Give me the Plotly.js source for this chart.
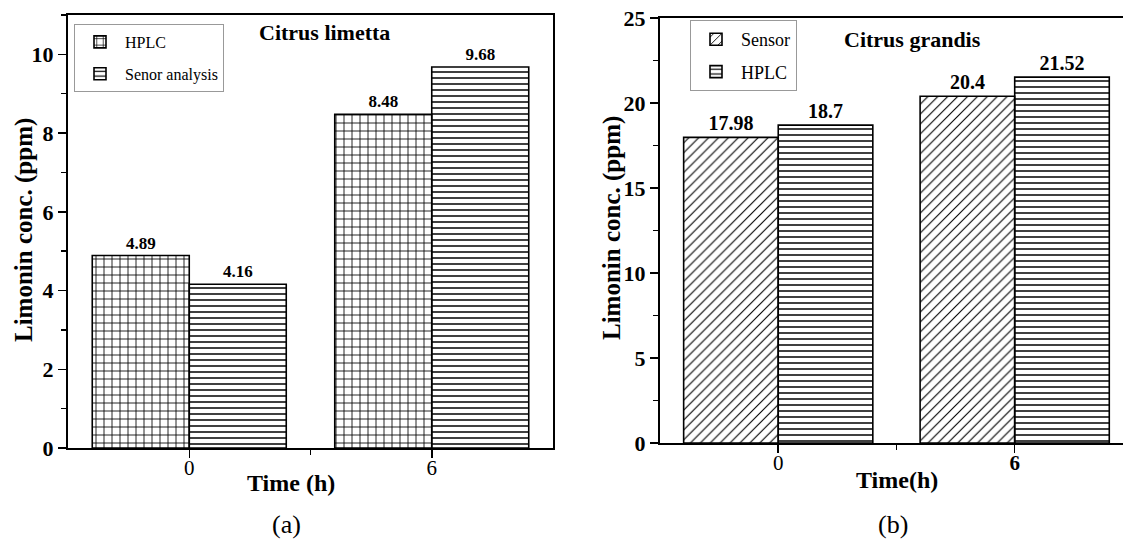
<!DOCTYPE html>
<html>
<head>
<meta charset="utf-8">
<script src="https://cdn.plot.ly/plotly-3.0.1.min.js"></script>
<style>html,body{margin:0;padding:0;background:#fff;}#chart{width:1123px;height:542px;}</style>
</head>
<body>
<div id="chart"></div>
<script>
// ---- data ----
const categories = ['0', '6'];            // Time (h)
const limettaHPLC = [4.89, 8.48];
const limettaSensor = [4.16, 9.68];
const grandisSensor = [17.98, 20.4];
const grandisHPLC = [18.7, 21.52];
const seriesNamesA = ['HPLC', 'Senor analysis'];
const seriesNamesB = ['Sensor', 'HPLC'];
const panelTitles = ['Citrus limetta', 'Citrus grandis'];
const xTitles = ['Time (h)', 'Time(h)'];
const yTitle = 'Limonin conc. (ppm)';
const panelLabels = ['(a)', '(b)'];

// ---- rendering ----
const FONT = 'Liberation Serif, Times New Roman, serif';
const idx = categories.map((_, i) => i);
const W = 1123, H = 542;

function barTrace(y, name, xa, ya, leg, pattern, txtSize) {
  return {
    type: 'bar', x: idx, y: y, name: name, xaxis: xa, yaxis: ya, legend: leg,
    legendgroup: leg + name,
    marker: { color: 'white', line: { color: 'black', width: 1.6 },
              pattern: Object.assign({ fgcolor: 'black', fillmode: 'replace' }, pattern) },
    text: y.map(String), textposition: 'outside', cliponaxis: false,
    textfont: { family: FONT, size: txtSize, weight: 'bold', color: 'black' },
    hoverinfo: 'skip'
  };
}

const traces = [
  barTrace(limettaHPLC, seriesNamesA[0], 'x', 'y', 'legend', { shape: '+', size: 8, solidity: 0.2 }, 17),
  barTrace(limettaSensor, seriesNamesA[1], 'x', 'y', 'legend', { shape: '-', size: 6, solidity: 0.25 }, 17),
  barTrace(grandisSensor, seriesNamesB[0], 'x2', 'y2', 'legend2', { shape: '/', size: 7, solidity: 0.16 }, 20),
  barTrace(grandisHPLC, seriesNamesB[1], 'x2', 'y2', 'legend2', { shape: '-', size: 6, solidity: 0.25 }, 20)
];

function xAxis(domain, range, ticktext, anchor, mirror) {
  return {
    domain: domain, range: range, anchor: anchor, type: 'linear',
    tickmode: 'array', tickvals: idx, ticktext: ticktext,
    showline: true, linecolor: 'black', linewidth: 2, mirror: mirror,
    ticks: 'outside', ticklen: 8, tickwidth: 1.5, tickcolor: 'black',
    minor: { tickmode: 'array', tickvals: [0.5], ticks: 'outside', ticklen: 5, tickwidth: 1.5, tickcolor: 'black' },
    showgrid: false, zeroline: false, fixedrange: true,
    ticklabelstandoff: -8,
    tickfont: { family: FONT, size: 21, color: 'black' }
  };
}
function yAxis(domain, range, dtick, anchor, mirror) {
  return {
    domain: domain, range: range, anchor: anchor,
    tick0: 0, dtick: dtick,
    showline: true, linecolor: 'black', linewidth: 2, mirror: mirror,
    ticks: 'outside', ticklen: 8, tickwidth: 1.5, tickcolor: 'black',
    minor: { dtick: dtick / 2, tick0: 0, ticks: 'outside', ticklen: 5, tickwidth: 1.5, tickcolor: 'black' },
    showgrid: false, zeroline: false, fixedrange: true,
    tickfont: { family: FONT, size: 22, color: 'black', weight: 'bold' }
  };
}

const pxX = v => v / W, pxY = v => 1 - v / H;
function note(text, x, y, size, extra) {
  return Object.assign({ text: text, xref: 'paper', yref: 'paper', x: pxX(x), y: pxY(y),
    xanchor: 'center', yanchor: 'middle', showarrow: false,
    font: { family: FONT, size: size, color: 'black' } }, extra || {});
}

const layout = {
  width: W, height: H,
  margin: { l: 0, r: 0, t: 0, b: 0 },
  paper_bgcolor: 'white', plot_bgcolor: 'white',
  barmode: 'group', bargap: 0.2, bargroupgap: 0,
  xaxis: xAxis([pxX(68), pxX(553)], [-0.5, 1.5], categories, 'y', true),
  yaxis: yAxis([pxY(448), pxY(15)], [0, 11], 2, 'x', true),
  xaxis2: xAxis([pxX(660), 1], [-0.5, 1.458], categories.map((c, i) => i === 1 ? '<b>' + c + '</b>' : c), 'y2', true),
  yaxis2: yAxis([pxY(443), pxY(18)], [0, 25], 5, 'x2', false),
  legend: {
    x: pxX(74), y: pxY(24), xanchor: 'left', yanchor: 'top',
    bgcolor: 'rgba(255,255,255,0)', bordercolor: '#999', borderwidth: 1,
    font: { family: FONT, size: 16, color: 'black' }, itemwidth: 40, tracegroupgap: 8
  },
  legend2: {
    x: pxX(690), y: pxY(20), xanchor: 'left', yanchor: 'top',
    bgcolor: 'rgba(255,255,255,0)', bordercolor: '#999', borderwidth: 1,
    font: { family: FONT, size: 18, color: 'black' }, itemwidth: 40, tracegroupgap: 6
  },
  showlegend: true,
  annotations: [
    note('<b>' + panelTitles[0] + '</b>', 324, 33, 22),
    note('<b>' + panelTitles[1] + '</b>', 912, 39, 22),
    note('<b>' + xTitles[0] + '</b>', 291, 483, 24),
    note('<b>' + xTitles[1] + '</b>', 897, 480, 24),
    note('<b>' + yTitle + '</b>', 24, 230, 25, { textangle: -90 }),
    note('<b>' + yTitle + '</b>', 612, 228, 25, { textangle: -90 }),
    note(panelLabels[0], 286, 524, 26),
    note(panelLabels[1], 893, 524, 26)
  ]
};

Plotly.newPlot('chart', traces, layout, { staticPlot: true, displayModeBar: false });
</script>
</body>
</html>
